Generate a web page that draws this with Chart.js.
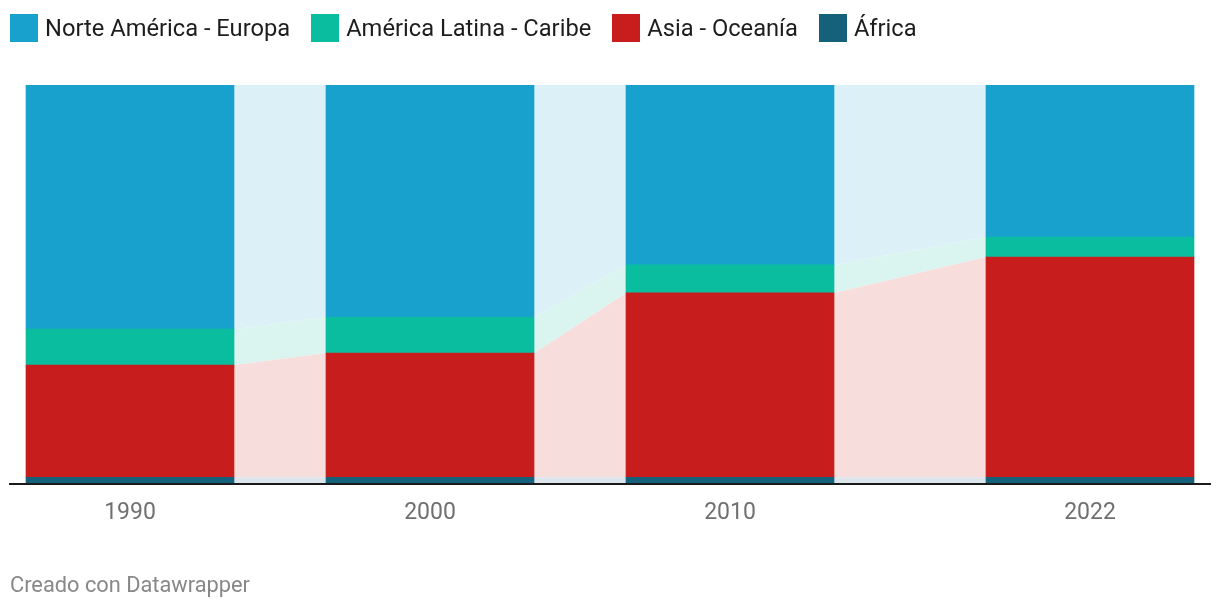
<!DOCTYPE html>
<html>
<head>
<meta charset="utf-8">
<script src="https://cdn.jsdelivr.net/npm/chart.js@4"></script>
<style>
  body { margin: 0; background: #fff; font-family: Roboto, sans-serif; }
  #wrap { position: relative; width: 1220px; height: 608px; }
  #chart { position: absolute; left: 0; top: 0; }
  .legend { position: absolute; left: 10px; top: 14px; display: flex; align-items: center; }
  .legend .item { display: flex; align-items: center; margin-right: 21px; font-size: 23.7px; color: #1d1d1d; }
  .legend .box { width: 28px; height: 28px; margin-right: 7px; }
  .footer { position: absolute; left: 10px; top: 572px; font-size: 21.8px; color: #888; }
</style>
</head>
<body>
<div id="wrap">
  <canvas id="chart" width="1220" height="608"></canvas>
  <div class="legend" id="legend"></div>
  <div class="footer">Creado con Datawrapper</div>
</div>
<script>
const years = [1990, 2000, 2010, 2022];
const africa = [1.7, 1.7, 1.7, 1.7];
const asia = [28.1, 31.1, 46.2, 55.2];
const latam = [9.0, 9.0, 7.0, 5.0];
const norte = [61.2, 58.2, 45.1, 38.1];

const series = [
  { label: 'África', data: africa, color: '#15607a', light: '#dce6ea' },
  { label: 'Asia - Oceanía', data: asia, color: '#c71e1d', light: '#f8dddd' },
  { label: 'América Latina - Caribe', data: latam, color: '#0bbd9f', light: '#daf4ef' },
  { label: 'Norte América - Europa', data: norte, color: '#19a1ce', light: '#dcf0f7' }
];

// half bar width in years (bar 208px, 30px per year)
const half = 104 / 30;

const datasets = [];
series.forEach(function (s, i) {
  const pts = [];
  years.forEach(function (y, j) {
    pts.push({ x: y - half, y: s.data[j] });
    pts.push({ x: y + half, y: s.data[j] });
  });
  datasets.push({
    type: 'line',
    label: s.label + ' area',
    data: pts,
    backgroundColor: s.light,
    borderWidth: 0,
    pointRadius: 0,
    tension: 0,
    fill: i === 0 ? 'origin' : '-1',
    order: 1
  });
});
series.forEach(function (s) {
  datasets.push({
    type: 'bar',
    label: s.label,
    data: years.map(function (y, j) { return { x: y, y: s.data[j] }; }),
    backgroundColor: s.color,
    borderWidth: 0,
    barThickness: 208,
    order: 0
  });
});

// html legend, top to bottom order
const legend = document.getElementById('legend');
series.slice().reverse().forEach(function (s) {
  const it = document.createElement('div');
  it.className = 'item';
  it.innerHTML = '<span class="box" style="background:' + s.color + '"></span>' + s.label;
  legend.appendChild(it);
});

new Chart(document.getElementById('chart'), {
  type: 'bar',
  data: { datasets: datasets },
  options: {
    responsive: false,
    animation: false,
    layout: { padding: { left: 10, right: 10, top: 85, bottom: 74 } },
    plugins: { legend: { display: false }, tooltip: { enabled: false } },
    scales: {
      x: {
        type: 'linear',
        stacked: true,
        offset: false,
        min: 1986,
        max: 2026,
        afterBuildTicks: function (s) { s.ticks = years.map(function (v) { return { value: v }; }); },
        afterFit: function (s) { s.height = 50; },
        grid: { display: false, drawTicks: false },
        border: { display: true, color: '#1a1a1a', width: 2, z: 1 },
        ticks: {
          padding: 15,
          color: '#707070',
          font: { family: 'Roboto', size: 23 },
          maxRotation: 0,
          callback: function (v) { return String(v); }
        }
      },
      y: {
        stacked: true,
        min: 0,
        max: 100,
        display: false
      }
    }
  }
});
</script>
</body>
</html>
